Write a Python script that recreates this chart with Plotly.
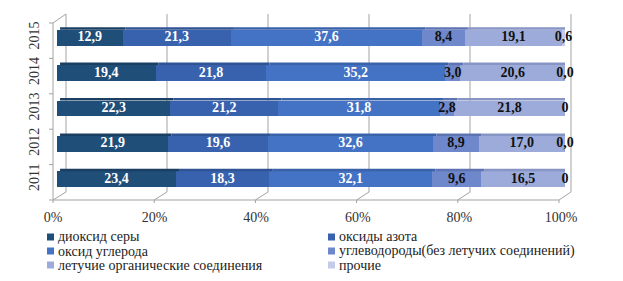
import plotly.graph_objects as go

# ---------------- data ----------------
years = ["2011", "2012", "2013", "2014", "2015"]
series_names = [
    "диоксид серы",
    "оксиды азота",
    "оксид углерода",
    "углеводороды(без летучих соединений)",
    "летучие органические соединения",
    "прочие",
]
sulfur_dioxide = [23.4, 21.9, 22.3, 19.4, 12.9]
nitrogen_oxides = [18.3, 19.6, 21.2, 21.8, 21.3]
carbon_oxide = [32.1, 32.6, 31.8, 35.2, 37.6]
hydrocarbons = [9.6, 8.9, 2.8, 3.0, 8.4]
volatile_organic = [16.5, 17.0, 21.8, 20.6, 19.1]
other = [0.0, 0.0, 0.0, 0.0, 0.6]
other_labels = ["0", "0,0", "0", "0,0", "0,6"]
x_ticks = [0, 20, 40, 60, 80, 100]
x_ticktext = ["0%", "20%", "40%", "60%", "80%", "100%"]

# ---------------- style ----------------
colors = ["#1f4e79", "#3862ae", "#4472c4", "#6f87cb", "#9dabdb", "#c3cbe9"]
top_colors = ["#1a3f63", "#2f5393", "#3a62a8", "#5e74b2", "#8795c4", "#a9b2d2"]
label_colors = ["white", "white", "white", "#111111", "#111111", "#111111"]
SERIF = "Liberation Serif, Times New Roman, DejaVu Serif, serif"
GRID = "#a3a3a3"

all_values = [sulfur_dioxide, nitrogen_oxides, carbon_oxide, hydrocarbons, volatile_organic, other]

W, H = 623, 281
L, R, T, B = 57, 565, 20, 197


def PX(x):
    return (x - L) / (R - L)


def PY(y):
    return (B - y) / (B - T)


fig = go.Figure()

totals = [sum(v[i] for v in all_values) for i in range(len(years))]
cum = [0.0] * len(years)
shapes = []
for s, (name, vals) in enumerate(zip(series_names, all_values)):
    fig.add_trace(go.Bar(
        y=years, x=vals, orientation="h", name=name,
        marker=dict(color=colors[s], line=dict(width=0)),
        showlegend=False, hoverinfo="skip",
    ))
    starts = [cum[i] for i in range(len(years))]
    norm = [vals[i] / totals[i] * 100 for i in range(len(years))]
    centers = [starts[i] + norm[i] / 2 for i in range(len(years))]
    for i in range(len(years)):
        cum[i] += norm[i]
    if s == len(all_values) - 1:
        texts = other_labels
    else:
        texts = [f"{v:.1f}".replace(".", ",") for v in vals]
    fig.add_trace(go.Scatter(
        x=centers, y=years, mode="text", text=texts,
        textfont=dict(family=SERIF, size=14, color=label_colors[s], weight="bold"),
        showlegend=False, hoverinfo="skip", cliponaxis=False,
    ))
    # thin darker top face of the pseudo-3D bars
    for i in range(len(years)):
        shapes.append(dict(
            type="rect", xref="x", yref="y", ysizemode="pixel", yanchor=i,
            x0=starts[i] + 0.6, x1=cum[i] + 0.6, y0=8, y1=10.5,
            fillcolor=top_colors[s], line=dict(width=0), layer="above",
        ))

# ---------------- pseudo-3D walls ----------------
def line(x0, y0, x1, y1, layer="below"):
    shapes.append(dict(type="line", xref="paper", yref="paper",
                       x0=PX(x0), y0=PY(y0), x1=PX(x1), y1=PY(y1),
                       line=dict(color=GRID, width=1), layer=layer))

for v in x_ticks:
    xb = 66 + v * 5.05
    xf = 53 + v * 5.06
    line(xb, 14, xb, 192)          # back wall gridline
    line(xf, 200, xb, 192)         # floor diagonal
    line(xf, 200, xf, 203)         # front tick
line(53, 200, 559, 200)            # front floor edge
line(53, 23, 53, 200)              # left wall front edge
line(53, 23, 66, 14)               # left wall top edge
for k in range(6):
    yk = 23 + k * 35.4
    line(49, yk, 53, yk)

# ---------------- legend (manual, tight rows) ----------------
annotations = []
leg_cols = [47, 328]
leg_rows = [237, 251, 265]
for s, name in enumerate(series_names):
    cx = leg_cols[s % 2]
    cy = leg_rows[s // 2]
    shapes.append(dict(type="rect", xref="paper", yref="paper",
                       x0=PX(cx), x1=PX(cx + 7), y0=PY(cy + 3.5), y1=PY(cy - 3.5),
                       fillcolor=colors[s], line=dict(width=0)))
    annotations.append(dict(xref="paper", yref="paper", x=PX(cx + 9), y=PY(cy),
                            xanchor="left", yanchor="middle", showarrow=False,
                            text=name, font=dict(family=SERIF, size=14, color="#222222")))

fig.update_layout(
    width=W, height=H,
    margin=dict(l=L, r=W - R, t=T, b=H - B, pad=0),
    barmode="stack", barnorm="percent", bargap=0.55,
    plot_bgcolor="white", paper_bgcolor="white",
    showlegend=False,
    shapes=shapes, annotations=annotations,
    xaxis=dict(range=[0, 100], tickvals=x_ticks, ticktext=x_ticktext,
               showgrid=False, zeroline=False, showline=False, ticks="",
               ticklabelstandoff=10, ticklabelshift=-4,
               tickfont=dict(family=SERIF, size=14, color="#333333")),
    yaxis=dict(categoryorder="array", categoryarray=years,
               showgrid=False, zeroline=False, showline=False, ticks="",
               tickangle=-90, ticklabelstandoff=14,
               tickfont=dict(family=SERIF, size=14, color="#333333")),
)

fig.write_html("out.html", config={"displayModeBar": False},
               post_script="document.body.style.margin='0';")
